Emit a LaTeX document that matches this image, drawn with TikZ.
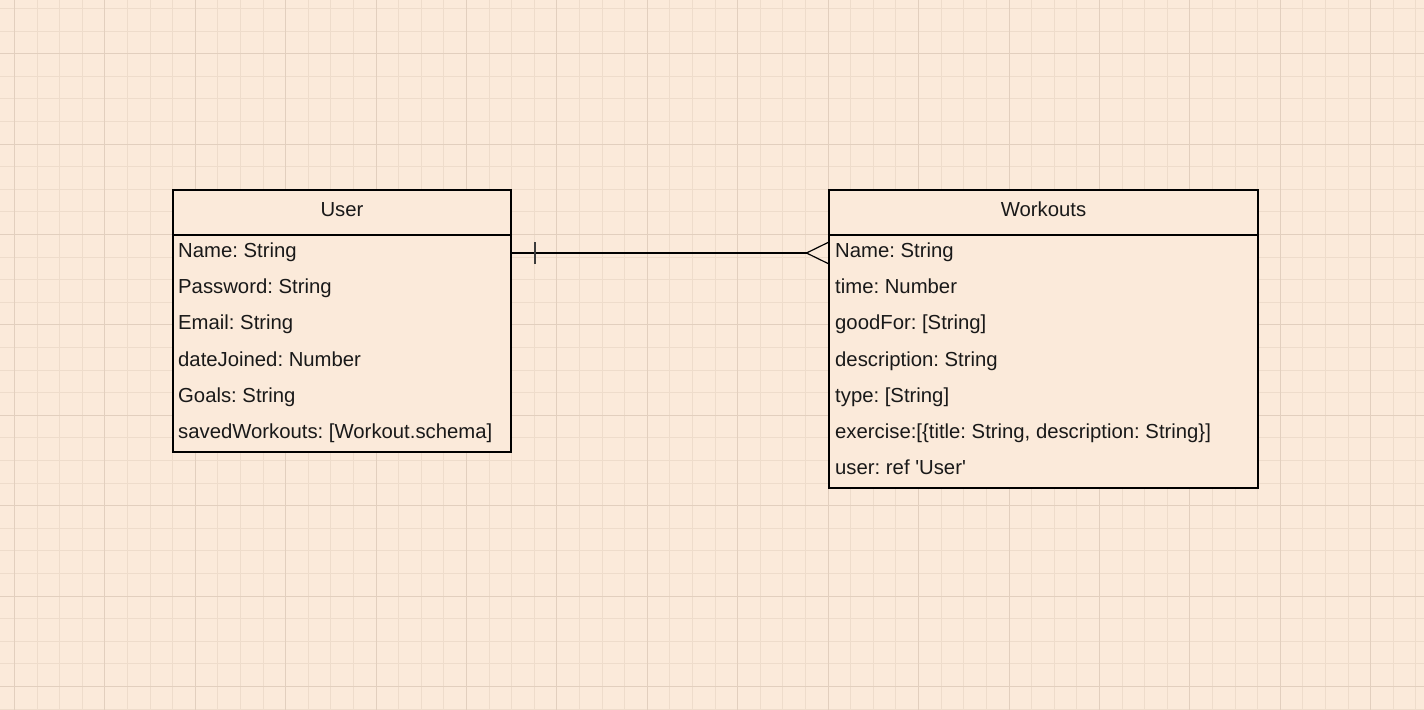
\documentclass[tikz,border=0pt]{standalone}
\usepackage{fontspec}
\setmainfont{Liberation Sans}[Ligatures=TeXOff]
\usetikzlibrary{calc}
\definecolor{bgc}{RGB}{251,234,218}
\definecolor{minorc}{RGB}{238,220,203}
\definecolor{majorc}{RGB}{226,207,190}
\definecolor{tickc}{RGB}{60,60,60}
\tikzset{
  minorline/.style={draw=minorc, line width=1bp},
  majorline/.style={draw=majorc, line width=1bp},
  classbox/.style={draw=black, fill=bgc, line width=1.2bp, inner sep=0pt, outer sep=0pt},
  rowtext/.style={anchor=base west, inner sep=0pt, font=\fontsize{20.3bp}{24bp}\selectfont\frenchspacing, text=black!90},
  headtext/.style={anchor=base, inner sep=0pt, font=\fontsize{20.3bp}{24bp}\selectfont\frenchspacing, text=black!90},
  conn/.style={draw=black, line width=1.2bp},
}
\begin{document}
\begin{tikzpicture}[x=1bp,y=-1bp]
\useasboundingbox (0,0) rectangle (1424,710);
\fill[bgc] (0,0) rectangle (1424,710);
% grid
\foreach \i in {0,...,62} {\draw[minorline] ({floor(14.4+22.605*\i)+0.5},0) -- ({floor(14.4+22.605*\i)+0.5},710);}
\foreach \i in {0,...,31} {\draw[minorline] (0,{floor(8.4+22.605*\i)+0.5}) -- (1424,{floor(8.4+22.605*\i)+0.5});}
\foreach \i in {0,...,15} {\draw[majorline] ({floor(14.4+90.42*\i)+0.5},0) -- ({floor(14.4+90.42*\i)+0.5},710);}
\foreach \i in {0,...,7} {\draw[majorline] (0,{floor(53.6+90.42*\i)+0.5}) -- (1424,{floor(53.6+90.42*\i)+0.5});}

% User class
\node[classbox, minimum width=338bp, minimum height=45bp, anchor=north west] (userhead) at (173,190) {};
\node[classbox, minimum width=338bp, minimum height=217bp, anchor=north west] (userbody) at (userhead.south west) {};
\node[headtext] (usertitle) at (342,216.7) {User};
\foreach \t [count=\k from 0] in {Name: String, Password: String, Email: String, dateJoined: Number, Goals: String, savedWorkouts: [Workout.schema]}
  {\node[rowtext] (u\k) at (178,{257.5+36.2*\k}) {\t};}

% Workouts class
\node[classbox, minimum width=429bp, minimum height=45bp, anchor=north west] (whead) at (829,190) {};
\node[classbox, minimum width=429bp, minimum height=253bp, anchor=north west] (wbody) at (whead.south west) {};
\node[headtext] (wtitle) at (1043.5,216.7) {Workouts};
\node[rowtext] (w0) at (835,257.5) {Name: String};
\node[rowtext] (w1) at (835,{257.5+36.2}) {time: Number};
\node[rowtext] (w2) at (835,{257.5+36.2*2}) {goodFor: [String]};
\node[rowtext] (w3) at (835,{257.5+36.2*3}) {description: String};
\node[rowtext] (w4) at (835,{257.5+36.2*4}) {type: [String]};
\node[rowtext] (w5) at (835,{257.5+36.2*5}) {exercise:[\{title: String, description: String\}]};
\node[rowtext] (w6) at (835,{257.5+36.2*6}) {user: ref 'User'};

% connector: one (user) to many (workouts)
\coordinate (cs) at ([yshift=-18bp]userbody.north east);
\coordinate (ce) at ([yshift=-18bp]wbody.north west);
\coordinate (fork) at ([xshift=-22.5bp]ce);
\draw[conn] (cs) -- (fork);
\draw[draw=tickc, line width=1.6bp] ([xshift=24bp,yshift=11bp]cs) -- ([xshift=24bp,yshift=-11bp]cs);
\draw[conn] ([yshift=11bp]ce) -- (fork) -- ([yshift=-11bp]ce);
\end{tikzpicture}
\end{document}
